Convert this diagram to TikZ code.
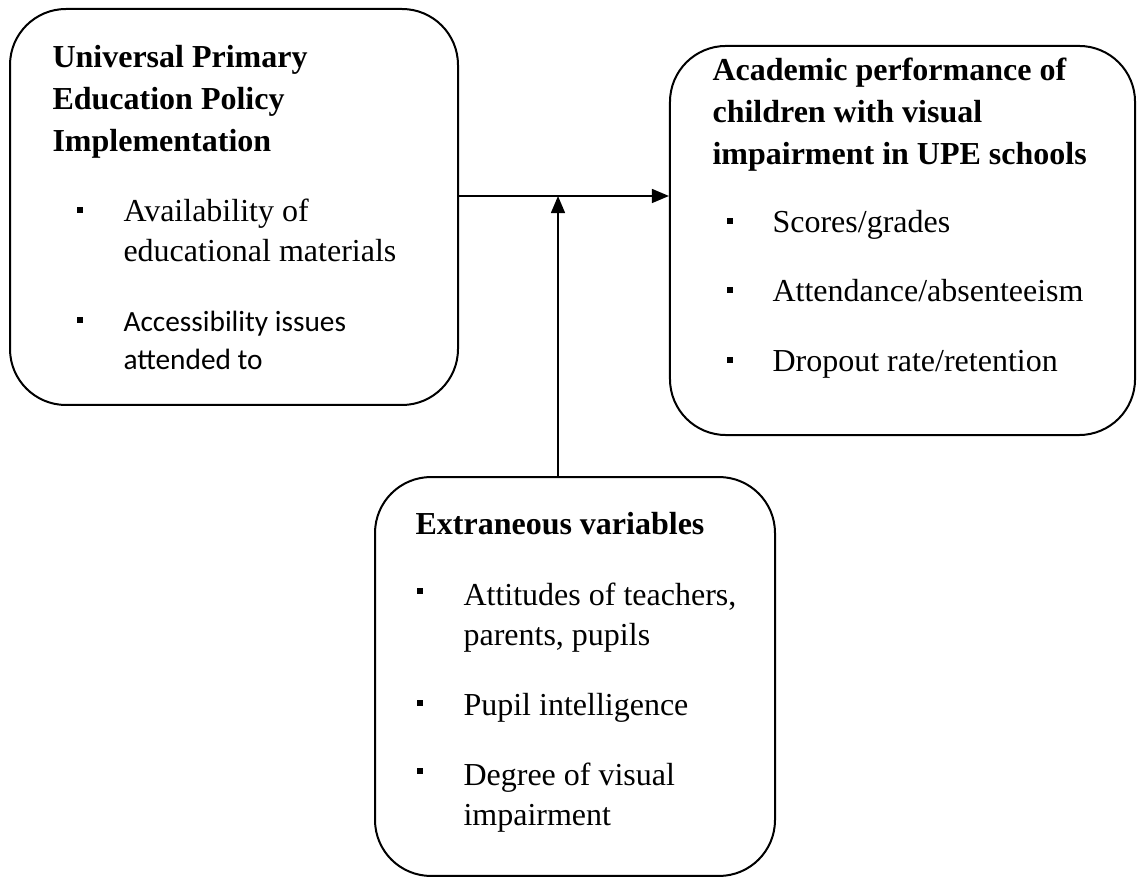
\documentclass[tikz,border=0pt]{standalone}
\usepackage{fontspec}
\setmainfont{Liberation Serif}
\newfontfamily\calibrifont{Carlito}
\usetikzlibrary{positioning,arrows.meta}

\begin{document}
\begin{tikzpicture}[x=0.375pt,y=-0.375pt]
		% styles
		\tikzset{
			frame/.style={draw, line width=0.75pt, rounded corners=21pt, inner sep=0pt},
			head/.style={anchor=base west, align=left, inner sep=0pt, font=\fontsize{12}{15.75}\selectfont\bfseries},
			item/.style={anchor=base west, align=left, inner sep=0pt, font=\fontsize{12}{15}\selectfont},
			bul/.style={fill, rectangle, minimum size=2.4pt, inner sep=0pt},
			link/.style={line width=0.75pt, -{Triangle[length=6.4pt,width=5.2pt]}}
		}
		\useasboundingbox (0,0) rectangle (1140,879);

		% boxes
		\node[frame, minimum width=168pt, minimum height=148.5pt] (policy) at (234,207) {};
		\node[frame, minimum width=174.4pt, minimum height=145.9pt] (outcome) at (902.5,240.5) {};
		\node[frame, minimum width=150pt, minimum height=149.6pt] (extra) at (575,676.5) {};

		% independent variable (base = last line)
		\node[head] (policyhead) at (52,152) {Universal Primary\\Education Policy\\Implementation};
		\node[bul] (pb1) at (80,210) {};
		\node[item] (pi1) at (123,262) {Availability of\\educational materials};
		\node[bul] (pb2) at (80,320) {};
		\node[item, font=\fontsize{11}{14.25}\selectfont\calibrifont] (pi2) at (123,370) {Accessibility issues\\attended to};

		% dependent variable
		\node[head] (outcomehead) at (712,165) {Academic performance of\\children with visual\\impairment in UPE schools};
		\node[bul] (ob1) at (730,221) {};
		\node[item] (oi1) at (772,233) {Scores/grades};
		\node[bul] (ob2) at (730,290) {};
		\node[item] (oi2) at (772,302) {Attendance/absenteeism};
		\node[bul] (ob3) at (730,360) {};
		\node[item] (oi3) at (772,372) {Dropout rate/retention};

		% extraneous variables
		\node[head] (extrahead) at (415,535) {Extraneous variables};
		\node[bul] (eb1) at (420,591) {};
		\node[item] (ei1) at (463,645) {Attitudes of teachers,\\parents, pupils};
		\node[bul] (eb2) at (420,703) {};
		\node[item] (ei2) at (463,715) {Pupil intelligence};
		\node[bul] (eb3) at (420,771) {};
		\node[item] (ei3) at (463,825) {Degree of visual\\impairment};

		% connections
		\coordinate (split) at (558,196);
		\draw[link] (policy.east |- split) -- (outcome.west |- split);
		\draw[link] (extra.north -| split) -- (split);

\end{tikzpicture}
\end{document}
